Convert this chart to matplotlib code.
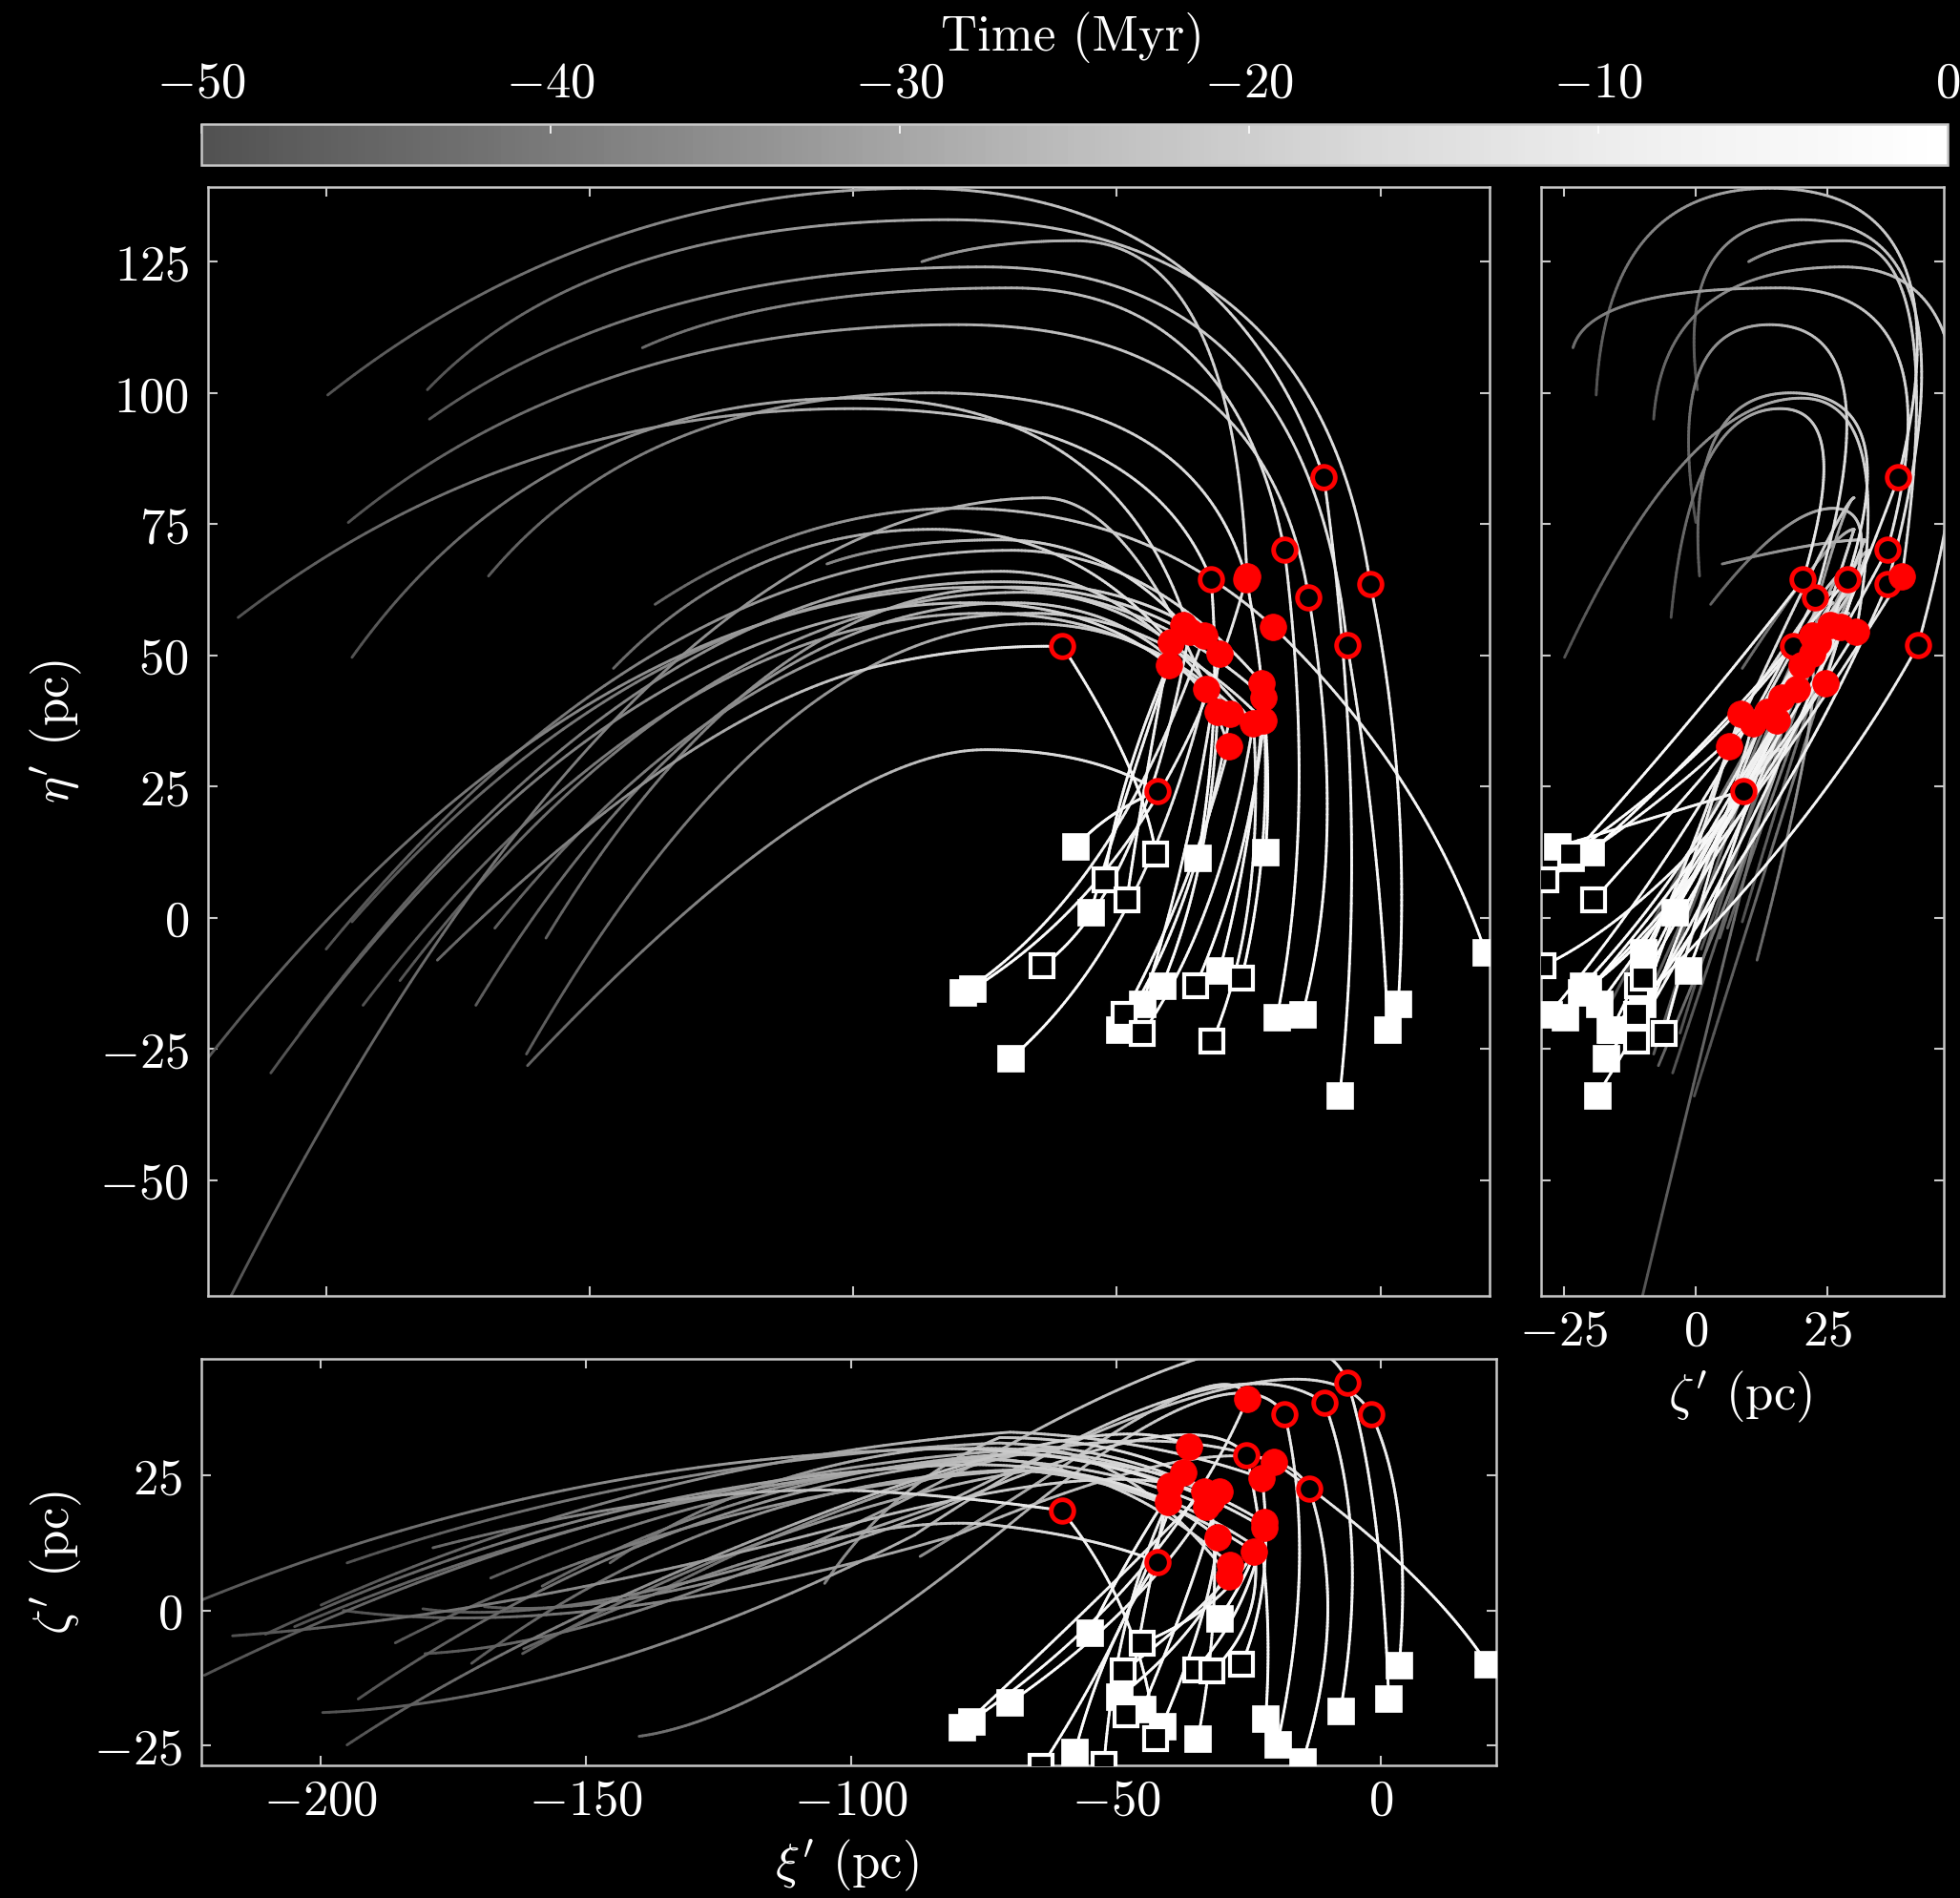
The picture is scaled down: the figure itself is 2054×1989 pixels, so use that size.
import numpy as np
import matplotlib
matplotlib.use("Agg")
import matplotlib.pyplot as plt
from matplotlib.bezier import BezierSegment
from matplotlib.collections import LineCollection
from matplotlib.colors import LinearSegmentedColormap, Normalize
from matplotlib.cm import ScalarMappable

plt.rcParams.update({
    "font.family": "cmr10",
    "mathtext.fontset": "cm",
    "axes.formatter.use_mathtext": True,
    "font.size": 38,
    "text.color": "white",
    "axes.edgecolor": "#c8c8c8",
    "axes.labelcolor": "white",
    "axes.facecolor": "black",
    "xtick.color": "#c8c8c8",
    "ytick.color": "#c8c8c8",
    "xtick.labelcolor": "white",
    "ytick.labelcolor": "white",
    "xtick.direction": "in",
    "ytick.direction": "in",
    "xtick.major.size": 7,
    "ytick.major.size": 7,
    "xtick.major.width": 1.5,
    "ytick.major.width": 1.5,
    "axes.linewidth": 1.8,
})

# one entry per star; positions in pc, times in Myr
# present-day position (t = 0)
xi_now = [-7.7, 3.4, 1.4, -19.6, -14.8, -77.4, -21.8, -34.6, -64.1, 20.0, -42.6, -57.8, -30.5,
          -52.3, -79.2, -70.1, -41.4, -45.1, -48.7, -49.5, -45.1, -35.0, -26.3, -31.9, -48.1, -55.0]
eta_now = [-33.8, -16.4, -21.3, -18.9, -18.5, -13.6, 12.4, 11.4, -9.2, -6.7, 12.1, 13.5, -10.1,
           7.2, -14.3, -26.8, -12.9, -16.4, -18.5, -21.3, -22.0, -12.9, -11.5, -23.6, 3.3, 1.0]
zeta_now = [-18.7, -10.2, -16.3, -24.8, -27.9, -20.5, -20.0, -23.8, -28.9, -9.9, -23.8, -26.2, -1.4,
            -28.5, -21.7, -17.1, -21.4, -18.3, -11.2, -16.0, -6.0, -11.0, -9.9, -11.2, -19.4, -4.1]
square_open = [0, 0, 0, 0, 0, 0, 0, 0, 1, 0, 1, 0, 0,
               1, 0, 0, 0, 0, 1, 0, 1, 1, 1, 1, 1, 0]

# position at the red-marker epoch
xi_red = [-10.7, -1.9, -6.3, -18.2, -13.6, -25.3, -25.4, -32.1, -36.2, -20.3, -60.3, -42.2, -22.1,
          -40.2, -33.4, -33.0, -30.9, -30.5, -28.7, -28.5, -24.1, -22.1, -22.5, -24.0, -39.8, -37.4]
eta_red = [83.9, 63.5, 51.9, 70.1, 61.1, 65.1, 64.5, 64.4, 54.5, 55.4, 51.7, 24.2, 42.0,
           48.2, 53.8, 43.6, 39.2, 50.3, 32.6, 38.9, 37.1, 37.5, 44.7, 36.0, 52.4, 55.8]
zeta_red = [38.4, 36.3, 42.1, 36.3, 22.6, 39.1, 28.7, 20.3, 30.4, 27.5, 18.5, 9.0, 16.3,
            20.0, 22.1, 19.2, 13.6, 22.1, 6.3, 8.5, 10.9, 15.3, 24.5, 12.0, 23.1, 25.5]
red_kind = ["open", "open", "open", "open", "open", "filled", "open", "open", "filled", "filled",
            "open", "open", "filled", "filled", "filled", "filled", "filled", "filled", "filled",
            "filled", "filled", "filled", "filled", "", "filled", "filled"]
t_red = [-12, -12, -11, -12, -12, -13, -10, -10, -12, -14, -9, -8, -11,
         -11, -13, -13, -12, -12, -12, -12, -12, -11, -11, -12, -11, -11]

# turning point of each orbit
xi_apex = [-88, -82, -75, -70, -80, -58, -85, -100, -100, -80, -95, -75, -75,
           -78, -72, -75, -70, -70, -64, -72, -68, -66, -70, -66, -85, -72]
eta_apex = [139, 133, 124, 120, 113, 129, 100, 97, 99, 78, 48, 32, 63,
            60, 64, 58, 60, 63, 80, 66, 62, 58, 70, 56, 74, 72]
zeta_apex = [14, 20, 28, 16, 14, 28, 18, 16, 20, 26, 22, 16, 30,
             27, 31, 28, 26, 29, 30, 28, 26, 29, 33, 26, 30, 32]
t_apex = [-28, -28, -28, -28, -28, -27, -27, -27, -27, -27, -20, -20, -25,
          -24, -25, -25, -24, -24, -25, -24, -24, -23, -24, -24, -25, -24]

# oldest position of each orbit
xi_end = [-199.7, -180.8, -180.4, -140.0, -195.8, -87.0, -169.2, -216.7, -195.1, -137.6, -178.9, -161.8, -228.0,
          -210.5, -195.1, -193.0, -171.6, -158.3, -222.0, -205.0, -186.0, -168.0, -200.0, -162.0, -145.5, -105.0]
eta_end = [99.6, 100.6, 95.0, 108.6, 75.3, 125.0, 65.1, 57.2, 49.6, 59.7, -8.1, -28.2, -34.0,
           -29.6, -0.8, -16.7, -16.7, -3.9, -80.0, -22.0, -12.0, -2.0, -6.0, -26.0, 47.5, 67.4]
zeta_end = [-18.9, 0.3, -8.0, -23.3, 0.0, 10.0, 0.7, -4.7, -24.9, 2.8, 11.6, -7.1, -0.3,
            -4.4, 8.8, -16.4, -9.8, 4.5, -12.0, -3.0, -6.0, 6.0, 1.0, -8.0, 8.8, 5.0]
t_end = [-50, -50, -49, -44, -50, -36, -48, -50, -50, -46, -45, -46, -50,
         -50, -50, -50, -48, -46, -50, -50, -49, -47, -50, -48, -45, -38]

# control points of the three quadratic curve pieces
xi_c1 = [-2, 6, 0, -12, -6, -40, -20, -30, -45, 8, -45, -52, -24,
         -50, -50, -45, -32, -35, -36, -35, -30, -25, -20, -22, -45, -48]
eta_c1 = [20, 25, 15, 20, 15, 10, 35, 38, 5, 28, 28, 20, 15,
          25, 5, -5, 10, 15, 5, 0, 0, 10, 15, 0, 25, 25]
zeta_c1 = [15, 20, 22, 10, 0, 5, 5, 0, 0, 8, 0, -5, 8,
           0, 5, 0, 0, 5, -2, -5, 0, 0, 5, -2, 0, 10]
xi_c2 = [-30, -12, -14, -28, -22, -28, -35, -45, -50, -45, -78, -55, -45,
         -55, -48, -50, -45, -48, -46, -48, -44, -42, -44, -42, -58, -52]
eta_c2 = [139, 133, 124, 120, 113, 129, 100, 97, 99, 78, 52, 32, 63,
          60, 64, 58, 60, 63, 80, 66, 62, 58, 70, 56, 74, 72]
zeta_c2 = [52, 55, 62, 50, 38, 48, 40, 30, 38, 36, 21, 14, 30,
           27, 30, 27, 25, 28, 28, 26, 24, 27, 32, 24, 30, 32]
xi_c3 = [-150, -150, -140, -115, -150, -75, -140, -165, -160, -110, -130, -105, -155,
         -146, -138, -136, -125, -118, -143, -140, -130, -120, -138, -115, -120, -92]
eta_c3 = [139, 133, 124, 120, 113, 129, 100, 97, 99, 78, 40, 32, 63,
          60, 64, 58, 60, 63, 80, 66, 62, 58, 70, 56, 74, 72]
zeta_c3 = [-17, -4, -6, -20, -6, 17, -2, -1, -2, 17, 24, 18, 30,
           25, 28, 22, 24, 26, 26, 24, 22, 26, 28, 18, 26, 24]

time_ticks = [-50, -40, -30, -20, -10, 0]

# grey map running from dark grey (oldest) to white (today)
cmap = LinearSegmentedColormap.from_list(
    "time_grey", plt.get_cmap("Greys_r")(np.linspace(0.25, 1.0, 256)))
norm = Normalize(vmin=-50, vmax=0)

fig = plt.figure(figsize=(20.54, 19.90), dpi=100, facecolor="black")
ax_main = fig.add_axes([0.1059, 0.3173, 0.6543, 0.5839])
ax_side = fig.add_axes([0.7864, 0.3173, 0.2053, 0.5839])
ax_low = fig.add_axes([0.1027, 0.0698, 0.6607, 0.2139])
cax = fig.add_axes([0.1027, 0.9124, 0.8909, 0.0218])

point_sets = [(xi_now, eta_now, zeta_now), (xi_c1, eta_c1, zeta_c1),
              (xi_red, eta_red, zeta_red), (xi_c2, eta_c2, zeta_c2),
              (xi_apex, eta_apex, zeta_apex), (xi_c3, eta_c3, zeta_c3),
              (xi_end, eta_end, zeta_end)]

# which coordinates (xi=0, eta=1, zeta=2) each panel shows
views = [(ax_main, 0, 1), (ax_side, 2, 1), (ax_low, 0, 2)]

s = np.linspace(0, 1, 80)
s_mid = 0.5 * (s[1:] + s[:-1])
segs = {0: [], 1: [], 2: []}
seg_t = []
for i in range(len(xi_now)):
    pts = np.array([[p[0][i], p[1][i], p[2][i]] for p in point_sets], dtype=float)
    knots = [0.0, t_red[i], t_apex[i], t_end[i]]
    for k in range(3):
        curve = BezierSegment(pts[2 * k:2 * k + 3])(s)
        seg_t.append(knots[k] + (knots[k + 1] - knots[k]) * s_mid)
        for v, (ax, a, b) in enumerate(views):
            xy = curve[:, [a, b]]
            segs[v].append(np.stack([xy[:-1], xy[1:]], axis=1))

seg_t = np.concatenate(seg_t)
order = np.argsort(seg_t)  # older (darker) pieces underneath
for v, (ax, a, b) in enumerate(views):
    allsegs = np.concatenate(segs[v])[order]
    lc = LineCollection(allsegs, cmap=cmap, norm=norm, linewidths=2.1,
                        capstyle="round", zorder=2)
    lc.set_array(seg_t[order])
    ax.add_collection(lc)

now = np.array([xi_now, eta_now, zeta_now], dtype=float)
red = np.array([xi_red, eta_red, zeta_red], dtype=float)
sq_open = np.array(square_open, dtype=bool)
kind = np.array(red_kind)

for ax, a, b in views:
    ax.plot(now[a][~sq_open], now[b][~sq_open], ls="none", marker="s", ms=20,
            mfc="white", mec="white", mew=0.5, zorder=4)
    ax.plot(now[a][sq_open], now[b][sq_open], ls="none", marker="s", ms=17,
            mfc="black", mec="white", mew=3, zorder=4)
    op = kind == "open"
    fl = kind == "filled"
    ax.plot(red[a][op], red[b][op], ls="none", marker="o", ms=17,
            mfc="black", mec="red", mew=3.5, zorder=5)
    ax.plot(red[a][fl], red[b][fl], ls="none", marker="o", ms=20,
            mfc="red", mec="red", mew=0.5, zorder=6)
    ax.tick_params(which="both", top=True, right=True)

eta_lim = (-72, 139.3)
ax_main.set_xlim(-222.5, 20.8)
ax_main.set_ylim(*eta_lim)
ax_main.set_xticks([-200, -150, -100, -50, 0])
ax_main.set_yticks([-50, -25, 0, 25, 50, 75, 100, 125])
ax_main.tick_params(labelbottom=False, pad=14)

ax_side.set_xlim(-29.3, 47)
ax_side.set_ylim(*eta_lim)
ax_side.set_xticks([-25, 0, 25])
ax_side.set_yticks([-50, -25, 0, 25, 50, 75, 100, 125])
ax_side.tick_params(labelleft=False, pad=10)

ax_low.set_xlim(-222.6, 21.7)
ax_low.set_ylim(-28.7, 46.5)
ax_low.set_xticks([-200, -150, -100, -50, 0])
ax_low.set_yticks([-25, 0, 25])
ax_low.tick_params(axis="x", pad=10)
ax_low.tick_params(axis="y", pad=14)

ax_main.set_ylabel(r"$\eta'$ (pc)", va="center")
ax_main.yaxis.set_label_coords(0.0287, 0.615, transform=fig.transFigure)
ax_low.set_ylabel(r"$\zeta'$ (pc)", va="center")
ax_low.yaxis.set_label_coords(0.0287, 0.177, transform=fig.transFigure)
ax_low.set_xlabel(r"$\xi'$ (pc)", va="center")
ax_low.xaxis.set_label_coords(0.432, 0.0178, transform=fig.transFigure)
ax_side.set_xlabel(r"$\zeta'$ (pc)", va="center")
ax_side.xaxis.set_label_coords(0.888, 0.2646, transform=fig.transFigure)

cb = fig.colorbar(ScalarMappable(norm=norm, cmap=cmap), cax=cax, orientation="horizontal")
cb.set_ticks(time_ticks)
cb.outline.set_edgecolor("#c8c8c8")
cb.outline.set_linewidth(1.8)
cax.xaxis.set_ticks_position("top")
cax.tick_params(direction="in", color="white", length=7, width=1.2, pad=14, labelcolor="white")
cb.set_label("Time (Myr)", color="white", va="center")
cax.xaxis.set_label_coords(0.547, 0.980, transform=fig.transFigure)

fig.savefig("out.png", dpi=100, facecolor="black")
